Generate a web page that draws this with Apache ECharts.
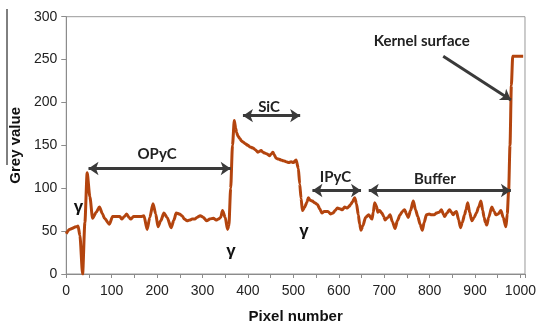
<!DOCTYPE html>
<html>
<head>
<meta charset="utf-8">
<script src="https://cdn.jsdelivr.net/npm/echarts@6/dist/echarts.min.js"></script>
<style>
  html, body { margin: 0; padding: 0; background: #fff; }
  #chart { width: 539px; height: 329px; }
</style>
</head>
<body>
<div id="chart"></div>
<script>
// pixel position along the profile and grey value
const pixelNumber = [
  0, 7, 22, 26, 30, 36, 41, 46, 52, 58, 66, 73, 80, 84, 95, 102, 110, 118, 122, 128,
  133, 138, 142, 148, 158, 165, 171, 178, 184, 191, 197, 202, 208, 215, 222, 231, 237, 242, 249, 255,
  260, 266, 272, 277, 283, 288, 295, 302, 309, 316, 324, 330, 335, 340, 344, 350, 355, 358, 362, 366,
  370, 373, 375, 378, 382, 386, 389, 394, 400, 405, 411, 416, 422, 429, 433, 437, 442, 448, 451, 455,
  458, 462, 467, 473, 478, 484, 490, 495, 500, 506, 511, 514, 517, 520, 525, 530, 533, 537, 542, 547,
  553, 558, 563, 568, 576, 582, 587, 592, 597, 602, 608, 613, 619, 623, 626, 630, 635, 639, 643, 646,
  649, 653, 659, 666, 673, 676, 679, 683, 686, 690, 695, 699, 702, 708, 713, 718, 724, 729, 735, 740,
  745, 749, 753, 758, 764, 769, 774, 779, 784, 788, 793, 799, 804, 810, 815, 821, 826, 830, 833, 838,
  844, 848, 852, 856, 859, 864, 868, 872, 877, 880, 884, 888, 893, 898, 903, 908, 913, 917, 920, 923,
  926, 930, 937, 942, 946, 951, 957, 962, 968, 971, 974, 977, 980, 983, 1006
];
const greyValue = [
  47, 52, 55, 56, 45, 0, 60, 118, 90, 65, 72, 78, 70, 65, 58, 67, 67, 67, 64, 67,
  70, 66, 64, 67, 67, 67, 68, 52, 66, 82, 70, 55, 62, 71, 66, 54, 63, 71, 70, 68,
  64, 62, 63, 64, 64, 66, 68, 66, 62, 64, 65, 63, 64, 66, 74, 66, 52, 56, 100, 150,
  179, 170, 165, 161, 158, 155, 154, 152, 150, 148, 147, 145, 142, 144, 142, 141, 140, 138, 140, 142,
  139, 135, 134, 133, 132, 131, 130, 131, 130, 133, 123, 105, 88, 74, 78, 84, 89, 86, 85, 83,
  81, 76, 71, 73, 73, 70, 71, 74, 77, 76, 75, 78, 77, 79, 81, 84, 89, 82, 69, 58,
  51, 56, 66, 69, 64, 72, 83, 79, 72, 74, 71, 67, 63, 66, 69, 61, 53, 62, 69, 73,
  75, 70, 66, 74, 85, 75, 67, 58, 51, 60, 69, 70, 69, 69, 71, 72, 75, 70, 67, 71,
  75, 72, 69, 72, 73, 63, 54, 60, 69, 75, 83, 72, 62, 66, 71, 78, 85, 74, 66, 60,
  57, 66, 78, 73, 69, 70, 74, 66, 55, 70, 97, 150, 220, 254, 254
];
const xTicks = [0, 100, 200, 300, 400, 500, 600, 700, 800, 900, 1000];

// layer annotations: [x0, y0, x1, y1, both ends arrowed]
const arrows = [
  [49, 123, 362, 123, true],
  [389, 184.6, 515, 184.6, true],
  [542, 97.4, 649, 97.4, true],
  [666, 97.4, 979, 97.4, true],
  [830, 253.8, 979, 203, false]
];
// text annotations: [label, x, y, font size]
const notes = [
  ['OPyC', 200, 139.5, 15],
  ['SiC', 446.5, 195, 15],
  ['IPyC', 592.7, 112.5, 15],
  ['Buffer', 811.8, 110.6, 15],
  ['Kernel surface', 782.6, 271, 15],
  ['γ', 26.7, 78, 17],
  ['γ', 362.6, 26.2, 17],
  ['γ', 523.2, 49.8, 17]
];

const chart = echarts.init(document.getElementById('chart'), null, { renderer: 'canvas' });

const lineData = pixelNumber.map((p, i) => [p, greyValue[i]]);

const arrowLines = arrows.map(a => {
  return [
    { coord: [a[0], a[1]], symbol: a[4] ? 'arrow' : 'none' },
    { coord: [a[2], a[3]], symbol: 'arrow' }
  ];
});

const notePoints = notes.map(n => {
  return {
    coord: [n[1], n[2]],
    symbolSize: 0,
    label: {
      show: true,
      position: 'inside',
      formatter: n[0],
      fontSize: n[3],
      fontWeight: 'bold',
      color: n[0] === 'γ' ? '#111' : '#222',
      fontFamily: n[0] === 'γ' ? 'Liberation Sans' : 'Lato'
    }
  };
});

chart.setOption({
  animation: false,
  backgroundColor: '#fff',
  grid: {
    left: 64.5,
    right: 13.5,
    top: 16.7,
    bottom: 52.3,
    show: true,
    borderColor: '#999',
    borderWidth: 1,
    backgroundColor: 'transparent'
  },
  xAxis: {
    type: 'value',
    min: 0,
    max: 1010,
    interval: 50,
    name: 'Pixel number',
    nameLocation: 'middle',
    nameGap: 35,
    nameTextStyle: {
      fontFamily: 'Liberation Sans',
      fontWeight: 'bold',
      fontSize: 15,
      color: '#111'
    },
    axisLine: { lineStyle: { color: '#8c8c8c', width: 1 } },
    axisTick: { show: true, length: 4, lineStyle: { color: '#8c8c8c' } },
    axisLabel: {
      margin: 10,
      fontFamily: 'Liberation Sans',
      fontSize: 14,
      color: '#222',
      showMaxLabel: true,
      formatter: v => (xTicks.indexOf(v) >= 0 ? String(v) : '')
    },
    splitLine: { show: false }
  },
  yAxis: {
    type: 'value',
    min: 0,
    max: 300,
    interval: 50,
    name: 'Grey value',
    nameLocation: 'middle',
    nameGap: 42,
    nameRotate: 90,
    nameTextStyle: {
      fontFamily: 'Liberation Sans',
      fontWeight: 'bold',
      fontSize: 15,
      color: '#111'
    },
    axisLine: { show: true, lineStyle: { color: '#8c8c8c', width: 1 } },
    axisTick: { show: true, length: 5, lineStyle: { color: '#8c8c8c' } },
    axisLabel: {
      margin: 9,
      fontFamily: 'Liberation Sans',
      fontSize: 14,
      color: '#222'
    },
    splitLine: { show: false }
  },
  graphic: [
    {
      type: 'line',
      shape: { x1: 7, y1: 9, x2: 7, y2: 165 },
      style: { stroke: '#000', lineWidth: 1 }
    }
  ],
  series: [
    {
      name: 'Grey value',
      type: 'line',
      data: lineData,
      showSymbol: false,
      symbol: 'none',
      smooth: 0.25,
      smoothMonotone: 'x',
      lineStyle: { color: '#b3440e', width: 3, join: 'round' },
      markLine: {
        silent: true,
        animation: false,
        symbolSize: [10, 10],
        label: { show: false },
        lineStyle: { color: '#3a3a3a', width: 3, type: 'solid' },
        emphasis: { disabled: true },
        data: arrowLines
      },
      markPoint: {
        silent: true,
        animation: false,
        symbol: 'circle',
        itemStyle: { color: 'transparent' },
        data: notePoints
      }
    }
  ]
});
</script>
</body>
</html>
